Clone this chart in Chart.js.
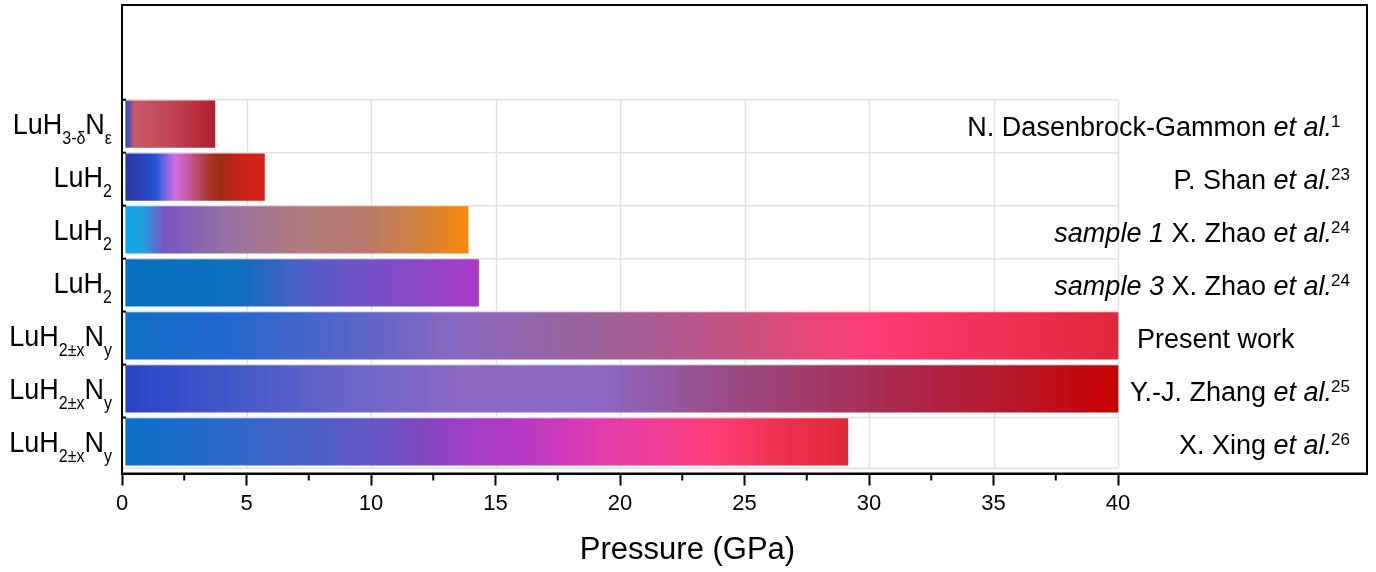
<!DOCTYPE html>
<html>
<head>
<meta charset="utf-8">
<script src="https://cdn.jsdelivr.net/npm/chart.js@4.4.1/dist/chart.umd.min.js"></script>
<style>
  html, body { margin: 0; padding: 0; background: #fff; }
  #wrap { width: 1376px; height: 572px; position: relative; }
</style>
</head>
<body>
<div id="wrap"><canvas id="ch"></canvas></div>
<script>
// ---- data (top to bottom) ----
var pStart = [0.15, 0.15, 0.15, 0.15, 0.15, 0.15, 0.15];
var pEnd   = [3.73, 5.72, 13.9, 14.32, 40, 40, 29.15];
// compound labels: [text, kind] kind: "" | "sub"
var compounds = [
  [["LuH", ""], ["3-δ", "sub"], ["N", ""], ["ε", "sub"]],
  [["LuH", ""], ["2", "sub"]],
  [["LuH", ""], ["2", "sub"]],
  [["LuH", ""], ["2", "sub"]],
  [["LuH", ""], ["2±x", "sub"], ["N", ""], ["y", "sub"]],
  [["LuH", ""], ["2±x", "sub"], ["N", ""], ["y", "sub"]],
  [["LuH", ""], ["2±x", "sub"], ["N", ""], ["y", "sub"]]
];
// reference labels: kind "" | "i" (italic) | "sup"
var refs = [
  [["N. Dasenbrock-Gammon ", ""], ["et al.", "i"], ["1", "sup"]],
  [["P. Shan ", ""], ["et al.", "i"], ["23", "sup"]],
  [["sample 1", "i"], [" X. Zhao ", ""], ["et al.", "i"], ["24", "sup"]],
  [["sample 3", "i"], [" X. Zhao ", ""], ["et al.", "i"], ["24", "sup"]],
  [["Present work", ""]],
  [["Y.-J. Zhang ", ""], ["et al.", "i"], ["25", "sup"]],
  [["X. Xing ", ""], ["et al.", "i"], ["26", "sup"]]
];
var xTicks = [0, 5, 10, 15, 20, 25, 30, 35, 40];
var xMinor = [2.5, 7.5, 12.5, 17.5, 22.5, 27.5, 32.5, 37.5];
var xTitle = "Pressure (GPa)";

// ---- styles ----
var FONT = "'Liberation Sans', Arial, sans-serif";
var GRID = "#e2e2e2";
var barStops = [
  [[0, "#3a48b8"], [0.05, "#6a54a0"], [0.09, "#c85868"], [0.5, "#c04656"], [1, "#b01e30"]],
  [[0, "#2a38a0"], [0.12, "#2c40b8"], [0.22, "#2258d8"], [0.3, "#8a68e0"], [0.36, "#d270e0"], [0.5, "#c04c7c"], [0.62, "#a83020"], [0.68, "#a02c14"], [0.82, "#c42418"], [1, "#dc2014"]],
  [[0, "#0ca8ec"], [0.05, "#20a0e0"], [0.11, "#7856c2"], [0.3, "#9672a2"], [0.5, "#b07a7e"], [0.7, "#b87a6c"], [0.85, "#d08040"], [1, "#f68a08"]],
  [[0, "#0870c0"], [0.32, "#0e70c2"], [0.48, "#4860c6"], [0.64, "#6c54c8"], [0.82, "#8a48c8"], [1, "#ac38c8"]],
  [[0, "#1070c8"], [0.1, "#2468d0"], [0.23, "#5a64c8"], [0.33, "#8a68c0"], [0.48, "#9c6298"], [0.55, "#b05890"], [0.62, "#c85080"], [0.69, "#e84878"], [0.75, "#ff3c78"], [0.83, "#f53460"], [1, "#e0283a"]],
  [[0, "#2a44c8"], [0.1, "#4058c8"], [0.23, "#6c66c8"], [0.33, "#8a68c4"], [0.48, "#8c68c4"], [0.55, "#9656a0"], [0.62, "#9c4880"], [0.69, "#a23a6a"], [0.76, "#a82c54"], [0.83, "#b0203c"], [0.9, "#b81628"], [1, "#c80000"]],
  [[0, "#0a70c8"], [0.13, "#2a68cc"], [0.27, "#5060c8"], [0.36, "#6c54c8"], [0.41, "#8048c0"], [0.45, "#9840c8"], [0.55, "#b838c4"], [0.66, "#e23cac"], [0.755, "#f63c90"], [0.82, "#fe3c74"], [0.89, "#f03456"], [1, "#e0283a"]]
];

function barFill(c) {
  var chart = c.chart;
  if (!chart.chartArea || c.dataIndex === undefined) return "#888";
  var i = c.dataIndex, xs = chart.scales.x;
  var x0 = xs.getPixelForValue(pStart[i]), x1 = xs.getPixelForValue(pEnd[i]);
  var g = chart.ctx.createLinearGradient(x0, 0, x1, 0);
  barStops[i].forEach(function (s) { g.addColorStop(s[0], s[1]); });
  return g;
}

// rich text helpers
function segFont(kind, main, small) {
  var size = (kind === "sub" || kind === "sup") ? small : main;
  var style = kind === "i" ? "italic " : "";
  return style + size + "px " + FONT;
}
function segWidth(ctx, segs, main, small, skipSup) {
  var w = 0;
  segs.forEach(function (s) {
    if (skipSup && s[1] === "sup") return;
    ctx.font = segFont(s[1], main, small);
    w += ctx.measureText(s[0]).width;
  });
  return w;
}
// draws segments with baseline at y, optional vertical stretch sy
function drawSegs(ctx, segs, x, y, main, small, subDy, supDy, sy) {
  ctx.save();
  ctx.translate(0, y);
  ctx.scale(1, sy || 1);
  segs.forEach(function (s) {
    ctx.font = segFont(s[1], main, small);
    var dy = s[1] === "sub" ? subDy : (s[1] === "sup" ? supDy : 0);
    if (s[1] === "sup") x -= 1;
    ctx.fillText(s[0], x, dy);
    x += ctx.measureText(s[0]).width;
  });
  ctx.restore();
}

var deco = {
  id: "deco",
  beforeDatasetsDraw: function (chart) {
    var ctx = chart.ctx, xs = chart.scales.x, ys = chart.scales.y;
    var top = ys.getPixelForValue(-0.459), bot = ys.getPixelForValue(6.5);
    var left = xs.getPixelForValue(0), right = xs.getPixelForValue(40);
    ctx.save();
    ctx.strokeStyle = GRID; ctx.lineWidth = 1.5;
    xTicks.forEach(function (v) {
      if (v === 0) return;
      var x = Math.round(xs.getPixelForValue(v)) + 0.5;
      ctx.beginPath(); ctx.moveTo(x, top); ctx.lineTo(x, bot); ctx.stroke();
    });
    for (var i = 0; i <= pEnd.length; i++) {
      var y = i < pEnd.length ? ys.getPixelForValue(i - 0.459) : bot;
      ctx.beginPath(); ctx.moveTo(left, y); ctx.lineTo(right, y); ctx.stroke();
    }
    ctx.restore();
  },
  afterDraw: function (chart) {
    var ctx = chart.ctx, a = chart.chartArea, xs = chart.scales.x, ys = chart.scales.y;
    ctx.save();
    // frame
    ctx.strokeStyle = "#000"; ctx.lineWidth = 2;
    ctx.strokeRect(a.left, a.top, a.right - a.left, a.bottom - a.top);
    // minor x ticks
    xMinor.forEach(function (v) {
      var x = xs.getPixelForValue(v);
      ctx.beginPath(); ctx.moveTo(x, a.bottom); ctx.lineTo(x, a.bottom + 7); ctx.stroke();
    });
    // small inward ticks on left axis at row boundaries
    for (var k = 0; k < pEnd.length; k++) {
      var yb = ys.getPixelForValue(k - 0.459);
      ctx.beginPath(); ctx.moveTo(a.left, yb); ctx.lineTo(a.left + 4, yb); ctx.stroke();
    }
    ctx.fillStyle = "#000";
    ctx.textBaseline = "alphabetic";
    ctx.textAlign = "left";
    // compound labels (left)
    compounds.forEach(function (segs, i) {
      var yc = ys.getPixelForValue(i);
      var w = segWidth(ctx, segs, 27, 16, false);
      drawSegs(ctx, segs, 112 - w, yc + 10, 27, 16, 9, -8, 1.12);
    });
    // reference labels (right)
    refs.forEach(function (segs, i) {
      var yc = ys.getPixelForValue(i);
      var hasSup = segs.some(function (s) { return s[1] === "sup"; });
      var x = hasSup ? 1332 - segWidth(ctx, segs, 27, 17, true) : 1137;
      drawSegs(ctx, segs, x, yc + 12, 27, 17, 0, -9, 1);
    });
    // axis title
    ctx.font = "31px " + FONT;
    ctx.textAlign = "center";
    ctx.textBaseline = "middle";
    ctx.fillText(xTitle, 687.5, 550);
    ctx.restore();
  }
};

new Chart(document.getElementById("ch"), {
  type: "bar",
  data: {
    datasets: [{
      data: pStart.map(function (s, i) { return { x: [s, pEnd[i]], y: i }; }),
      backgroundColor: barFill,
      borderWidth: 0,
      barThickness: 46.6
    }]
  },
  options: {
    indexAxis: "y",
    responsive: true,
    maintainAspectRatio: false,
    animation: false,
    layout: { padding: { left: 122, right: 9, top: 5, bottom: 0 } },
    plugins: { legend: { display: false }, tooltip: { enabled: false } },
    scales: {
      x: {
        type: "linear", position: "bottom", min: 0, max: 50,
        afterBuildTicks: function (s) { s.ticks = xTicks.map(function (v) { return { value: v }; }); },
        afterFit: function (s) { s.height = 98.5; },
        grid: { display: true, drawOnChartArea: false, drawTicks: true, tickLength: 12, tickWidth: 2, tickColor: "#000" },
        border: { display: true, color: "#000", width: 2 },
        ticks: { color: "#000", font: { size: 22, family: FONT }, padding: 5, maxRotation: 0, autoSkip: false }
      },
      y: {
        type: "linear", display: false, reverse: true, offset: false, min: -2.247, max: 6.597
      }
    }
  },
  plugins: [deco]
});
</script>
</body>
</html>
